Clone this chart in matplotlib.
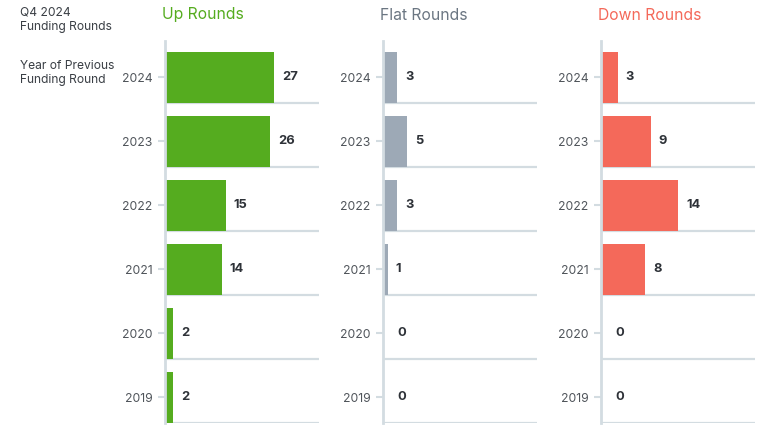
import matplotlib
matplotlib.use('Agg')
import matplotlib.pyplot as plt

plt.rcParams['font.family'] = ['Inter', 'DejaVu Sans']

years = ['2024', '2023', '2022', '2021', '2020', '2019']
up_rounds = [27, 26, 15, 14, 2, 2]
flat_rounds = [3, 5, 3, 1, 0, 0]
down_rounds = [3, 9, 14, 8, 0, 0]

panels = [
    ('Up Rounds', up_rounds, '#55AC1F', '#55AC1F', 38),
    ('Flat Rounds', flat_rounds, '#9DA9B6', '#6B7682', 32),
    ('Down Rounds', down_rounds, '#F4695A', '#F4695A', 28),
]

W, H = 772, 434
fig = plt.figure(figsize=(W / 100, H / 100), dpi=100)

line_col = '#D3DCE1'
lefts = [165, 383, 601]
ax_w = 154
ax_top, ax_bot = 41, 423

fig.text(20 / W, 1 - 20 / H, 'Q4 2024\nFunding Rounds', fontsize=8.7, color='#3A3F45',
         ha='left', va='center', linespacing=1.3)
fig.text(20 / W, 1 - 73 / H, 'Year of Previous\nFunding Round', fontsize=8.7, color='#3A3F45',
         ha='left', va='center', linespacing=1.3)

for left, (title, vals, col, tcol, xmax) in zip(lefts, panels):
    ax = fig.add_axes([left / W, 1 - ax_bot / H, ax_w / W, (ax_bot - ax_top) / H])
    ypos = list(range(len(years)))
    ax.barh(ypos, vals, height=0.8, color=col, zorder=2)
    for y in ypos:
        ax.axhline(y + 0.4, color=line_col, lw=1.6, zorder=1)
    for y, v in zip(ypos, vals):
        ax.annotate(str(v), (v, y), xytext=(8 if v else 14, 0), textcoords='offset pixels',
                    ha='left', va='center', fontsize=9.3, fontweight='bold', color='#2E3238')
    ax.set_xlim(0, xmax)
    ax.set_ylim(5.4, -0.57)
    ax.set_yticks(ypos)
    ax.set_yticklabels(years)
    ax.set_xticks([])
    for s in ['top', 'right', 'bottom']:
        ax.spines[s].set_visible(False)
    ax.spines['left'].set_color(line_col)
    ax.spines['left'].set_linewidth(2)
    ax.tick_params(axis='y', length=5, width=1.5, color=line_col, pad=4,
                   labelsize=8.8, labelcolor='#50555B')
    ax.patch.set_alpha(0)
    fig.text((left - 3) / W, 1 - 15 / H, title, fontsize=11.3, color=tcol,
             ha='left', va='center')

fig.savefig('out.png', dpi=100)
